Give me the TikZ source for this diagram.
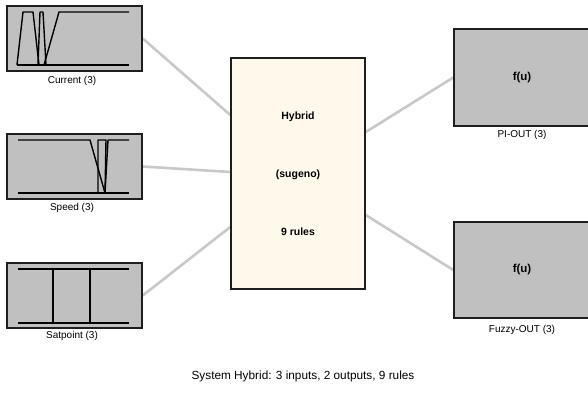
\documentclass[tikz,border=0pt]{standalone}
\usepackage{fontspec}
\setmainfont{Liberation Sans}
\usetikzlibrary{calc}
\definecolor{boxgray}{HTML}{C0C0C0}
\definecolor{edgegray}{HTML}{C8C8C8}
\definecolor{cream}{HTML}{FFF9EC}
\definecolor{frame}{HTML}{1E1E1E}
\begin{document}
\begin{tikzpicture}[x=1pt,y=-1pt,
  varbox/.style={draw=frame,line width=1.5pt,fill=boxgray,rectangle,inner sep=0pt},
  fisbox/.style={draw=frame,line width=1.5pt,fill=cream,rectangle,inner sep=0pt,minimum width=134pt,minimum height=231pt},
  mf/.style={line width=1.4pt,black,line join=round},
  conn/.style={edgegray,line width=2.6pt},
  lbl/.style={font=\fontsize{10}{12}\selectfont,inner sep=0pt},
  bld/.style={font=\fontsize{10.5}{12}\selectfont\bfseries,inner sep=0pt}]
\useasboundingbox (0,0) rectangle (588,399);
\fill[white] (0,0) rectangle (588,399);
% input boxes
\node[varbox,minimum width=135pt,minimum height=65pt] (cur) at (74.5,38.5) {};
\node[varbox,minimum width=135pt,minimum height=65pt] (spd) at (74.5,166.5) {};
\node[varbox,minimum width=135pt,minimum height=65pt] (sat) at (74.5,295.5) {};
% central FIS box
\node[fisbox] (fis) at (298,173.5) {};
% output boxes
\node[varbox,minimum width=136pt,minimum height=97pt] (pi) at (522,77.5) {};
\node[varbox,minimum width=136pt,minimum height=96pt] (fz) at (522,270) {};
% connectors
\draw[conn] (cur.east) -- ($(fis.west)+(0,-58.5)$);
\draw[conn] (spd.east) -- ($(fis.west)+(0,-1.5)$);
\draw[conn] (sat.east) -- ($(fis.west)+(0,53.5)$);
\draw[conn] ($(fis.east)+(0,-41.5)$) -- (pi.west);
\draw[conn] ($(fis.east)+(0,41.5)$) -- (fz.west);
% redraw boxes on top of connectors
\node[varbox,minimum width=135pt,minimum height=65pt] at (cur) {};
\node[varbox,minimum width=135pt,minimum height=65pt] at (spd) {};
\node[varbox,minimum width=135pt,minimum height=65pt] at (sat) {};
\node[fisbox] at (fis) {};
\node[varbox,minimum width=136pt,minimum height=97pt] at (pi) {};
\node[varbox,minimum width=136pt,minimum height=96pt] at (fz) {};
% Current MFs
\draw[mf] (17,65) -- (129,65);
\draw[mf] (17,65) -- (23,12) -- (33,12) -- (39,65);
\draw[mf] (38,65) -- (40,12) -- (43,12) -- (46,65);
\draw[mf] (44,65) -- (59,12) -- (129,12);
% Speed MFs
\draw[mf] (18,193) -- (129,193);
\draw[mf] (18,140) -- (90,140) -- (105,193);
\draw[mf] (98,193) -- (98,140) -- (106,140) -- (105,193);
\draw[mf] (105,193) -- (108,140) -- (129,140);
% Satpoint MFs
\draw[mf] (18,269) -- (129,269);
\draw[mf] (18,323) -- (129,323);
\draw[mf] (53,269) -- (53,323);
\draw[mf] (90,269) -- (90,323);
% labels
\node[lbl] (curl) at (72,81) {Current (3)};
\node[lbl] (spdl) at (72,208) {Speed (3)};
\node[lbl] (satl) at (72,336) {Satpoint (3)};
\node[lbl] (pil) at (522,135) {PI-OUT (3)};
\node[lbl] (fzl) at (522,330) {Fuzzy-OUT (3)};
% FIS text
\node[bld] (t1) at (298,117) {Hybrid};
\node[bld] (t2) at (298,175) {(sugeno)};
\node[bld] (t3) at (298,232) {9 rules};
\node[font=\fontsize{11.5}{13}\selectfont\bfseries,inner sep=0pt] (fu1) at (522,78) {f(u)};
\node[font=\fontsize{11.5}{13}\selectfont\bfseries,inner sep=0pt] (fu2) at (522,270) {f(u)};
% bottom caption
\node[font=\fontsize{11.8}{14}\selectfont,inner sep=0pt] (cap) at (303,376) {System Hybrid: 3 inputs, 2 outputs, 9 rules};
\end{tikzpicture}
\end{document}
